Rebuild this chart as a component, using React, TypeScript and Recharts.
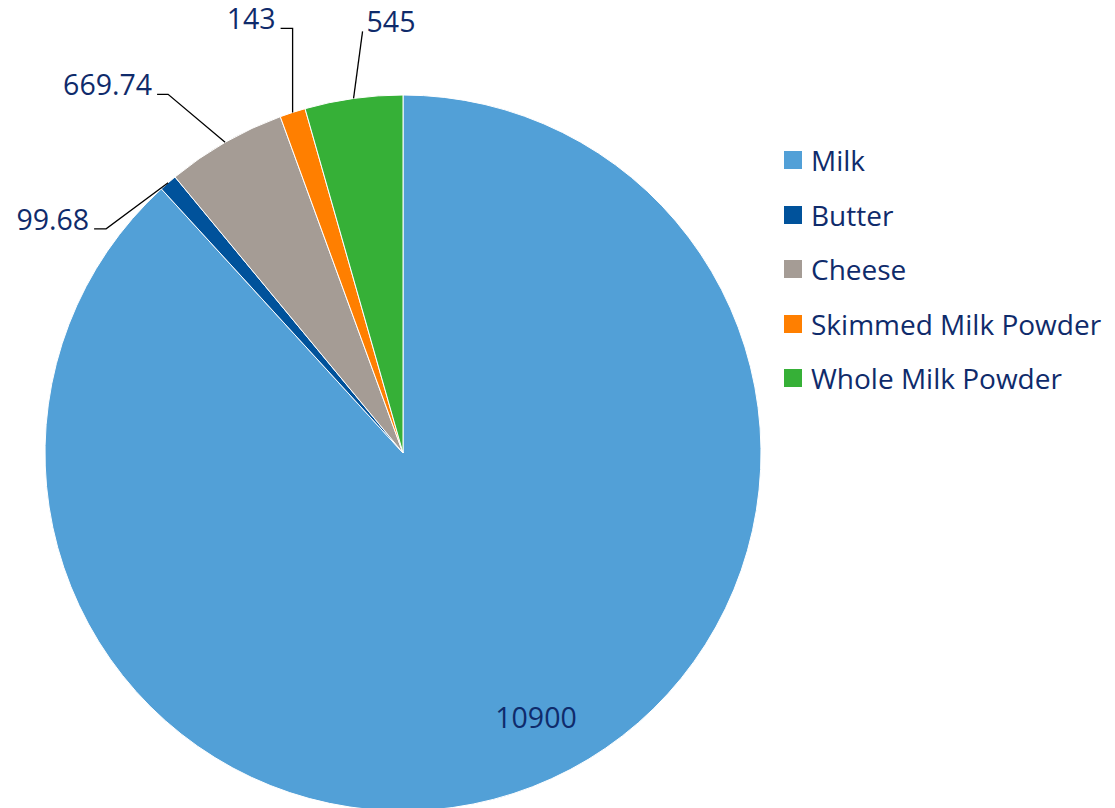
import { PieChart, Pie, Cell } from 'recharts';

const CATEGORIES = ['Milk', 'Butter', 'Cheese', 'Skimmed Milk Powder', 'Whole Milk Powder'];
const VALUES = [10900, 99.68, 669.74, 143, 545];
const COLORS = ['#52A0D7', '#00529B', '#A59C95', '#FF7F00', '#36B037'];

const TEXT = '#0F2B6B';
const FONT = '"Open Sans", sans-serif';
const RADIAN = Math.PI / 180;

// leader line layout per slice, relative to the slice's outer edge point
const LABEL_LAYOUT = [
  null,
  { dx: -62, dy: 46, run: -12 },
  { dx: -57, dy: -48, run: -11 },
  { dx: 0, dy: -84, run: -12 },
  { dx: 9, dy: -67, run: 0 },
];

const rows = CATEGORIES.map((name, i) => ({ name, value: VALUES[i] }));

function renderLabel(props: any) {
  const { cx, cy, midAngle, outerRadius, index, value } = props;
  const layout = LABEL_LAYOUT[index];
  if (!layout) {
    // big slice: label sits inside
    return (
      <text x={cx + 133} y={cy + 264} fill={TEXT} fontSize={28.5} fontFamily={FONT}
        textAnchor="middle" dominantBaseline="central">
        {value}
      </text>
    );
  }
  const ex = cx + outerRadius * Math.cos(-midAngle * RADIAN);
  const ey = cy + outerRadius * Math.sin(-midAngle * RADIAN);
  const bx = ex + layout.dx;
  const by = ey + layout.dy;
  const tx = bx + layout.run;
  const left = layout.run < 0;
  return (
    <g>
      <polyline points={`${ex},${ey} ${bx},${by} ${tx},${by}`} fill="none" stroke="#000" strokeWidth={1.3} />
      <text x={left ? tx - 5 : tx + 4} y={by + 1} fill={TEXT} fontSize={28.5} fontFamily={FONT}
        textAnchor={left ? 'end' : 'start'}>
        {value}
      </text>
    </g>
  );
}

export default function App() {
  return (
    <div style={{ position: 'absolute', left: 0, top: 0, width: 1115, height: 808, background: '#fff', overflow: 'hidden' }}>
      <PieChart width={1115} height={808} margin={{ top: 0, right: 0, bottom: 0, left: 0 }}>
        <Pie
          data={rows}
          dataKey="value"
          nameKey="name"
          cx={403}
          cy={453}
          outerRadius={358}
          startAngle={90}
          endAngle={-270}
          stroke="#fff"
          strokeWidth={1}
          label={renderLabel}
          labelLine={false}
          isAnimationActive={false}
        >
          {rows.map((r, i) => (
            <Cell key={r.name} fill={COLORS[i]} />
          ))}
        </Pie>
      </PieChart>
      <div style={{ position: 'absolute', left: 784, top: 133, fontFamily: FONT }}>
        {CATEGORIES.map((name, i) => (
          <div key={name} style={{ display: 'flex', alignItems: 'center', height: 54.5 }}>
            <span style={{ width: 18, height: 18, background: COLORS[i], display: 'inline-block', marginRight: 9 }} />
            <span style={{ fontSize: 28, color: TEXT, whiteSpace: 'nowrap' }}>{name}</span>
          </div>
        ))}
      </div>
    </div>
  );
}
